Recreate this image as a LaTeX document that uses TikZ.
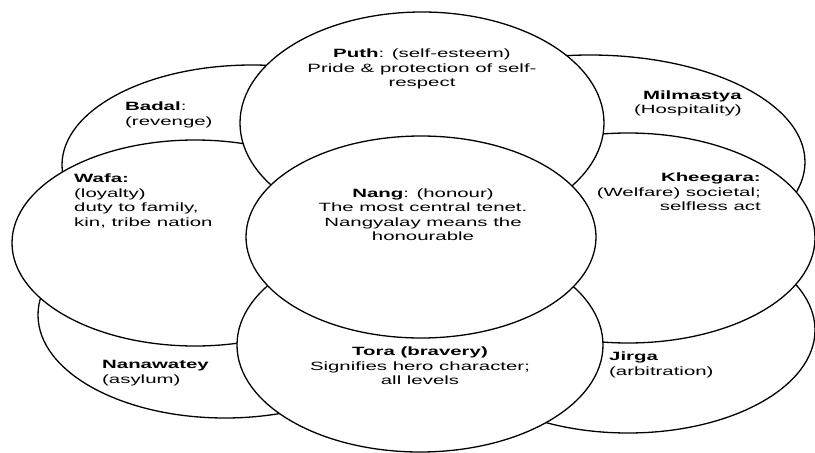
\documentclass[tikz,border=0pt]{standalone}
\usepackage{fontspec}
\setmainfont{Liberation Sans}[FakeStretch=1.7]
\usepackage{tikz}
\usetikzlibrary{shapes.geometric}

\begin{document}
\begin{tikzpicture}[x=1pt, y=-1pt, line join=round,
    petal/.style={ellipse, draw=black, fill=white, line width=1.3pt, inner sep=0pt},
    tenet/.style={font=\fontsize{12}{14.5}\selectfont, inner sep=0pt}]
  \useasboundingbox (0,0) rectangle (815,453);
  % outer ring first, the centre on top
  \foreach \n/\cx/\cy/\w/\h in {badal/252/165/380/200, milmastya/590/162/430/214,
      nanawatey/225/315/374/206, jirga/628/330/374/206, wafa/195/243/366/206,
      kheegara/628/238/374/210, puth/422/123/364/222, tora/420/345/366/214,
      nang/421/237/350/202}{
    \node[petal, minimum width=\w, minimum height=\h] (\n) at (\cx,\cy) {};
  }
  \node[tenet, align=center] (puthtext) at (422,69) {\textbf{Puth}: (self-esteem)\\Pride \& protection of self-\\respect};
  \node[tenet, align=left, anchor=west] (badaltext) at (125,115) {\textbf{Badal}:\\(revenge)};
  \node[tenet, align=right, anchor=east] (milmastyatext) at (742,103.5) {\textbf{Milmastya}\\(Hospitality)};
  \node[tenet, align=left, anchor=west] (wafatext) at (74,201) {\textbf{Wafa:}\\(loyalty)\\duty to family,\\kin, tribe nation};
  \node[tenet, align=center] (nangtext) at (423,214.5) {\textbf{Nang}: (honour)\\The most central tenet.\\Nangyalay means the\\honourable};
  \node[tenet, align=right, anchor=east] (kheegaratext) at (761,192) {\textbf{Kheegara:}\\(Welfare) societal;\\selfless act};
  \node[tenet, align=left, anchor=west] (nanawateytext) at (102,373) {\textbf{Nanawatey}\\(asylum)};
  \node[tenet, align=center] (toratext) at (420,366) {\textbf{Tora (bravery)}\\Signifies hero character;\\all levels};
  \node[tenet, align=left, anchor=west] (jirgatext) at (609,365) {\textbf{Jirga}\\(arbitration)};
\end{tikzpicture}
\end{document}
